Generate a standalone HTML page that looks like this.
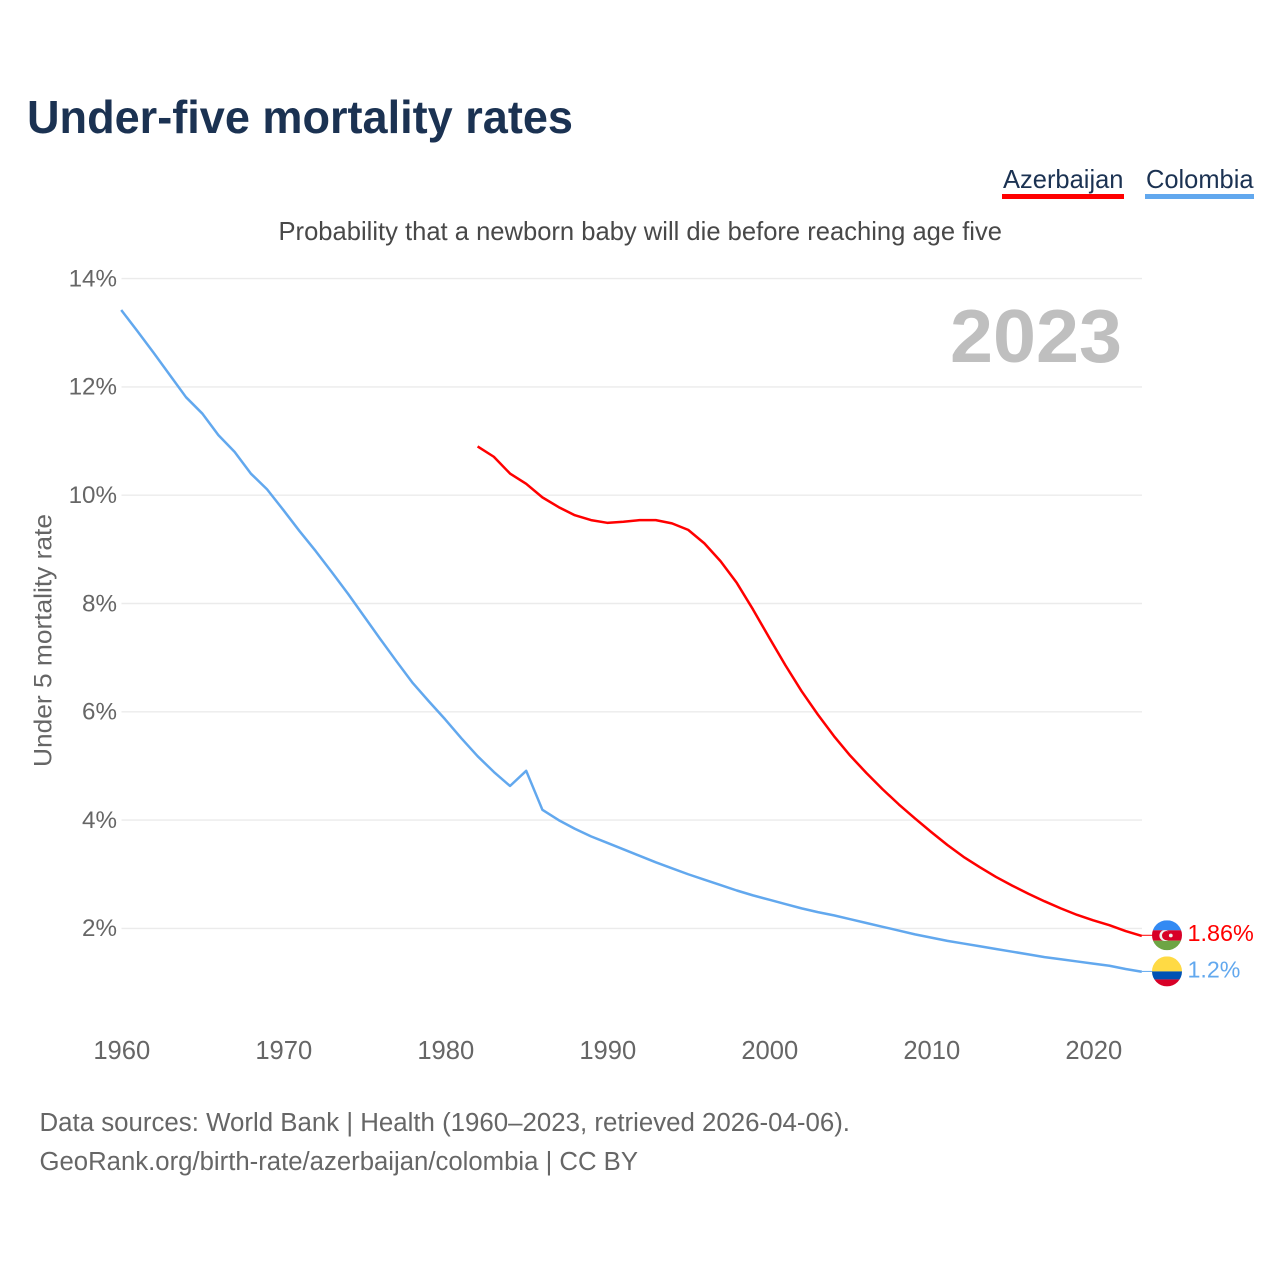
<!DOCTYPE html>
<html lang="en">
<head>
<meta charset="utf-8">
<title>Under-five mortality rates</title>
<style>
  html, body { margin: 0; padding: 0; background: #fff; }
  svg { display: block; font-family: "Liberation Sans", sans-serif; }
</style>
</head>
<body>
<svg id="chart" xmlns="http://www.w3.org/2000/svg" width="1280" height="1280" viewBox="0 0 1280 1280">
  <defs>
    <clipPath id="flag-clip"><circle cx="0" cy="0" r="15"></circle></clipPath>
  </defs>
  <rect x="0" y="0" width="1280" height="1280" fill="#ffffff"></rect>

  <text x="27" y="133" font-size="46" font-weight="700" fill="#1b3252" textLength="546" lengthAdjust="spacingAndGlyphs">Under-five mortality rates</text>

  <g>
    <g>
      <text x="1003" y="188" font-size="26" fill="#1b3252" textLength="120.5" lengthAdjust="spacingAndGlyphs">Azerbaijan</text>
      <rect x="1002" y="194" width="122" height="5" fill="#ff0000"></rect>
    </g>
    <g>
      <text x="1146" y="188" font-size="26" fill="#1b3252" textLength="107.5" lengthAdjust="spacingAndGlyphs">Colombia</text>
      <rect x="1145" y="194" width="109" height="5" fill="#62a8ee"></rect>
    </g>
  </g>

  <text x="278.5" y="240" font-size="26" fill="#484848" textLength="723.5" lengthAdjust="spacingAndGlyphs">Probability that a newborn baby will die before reaching age five</text>

  <g id="grid"></g>
  <g id="y-ticks"></g>
  <g id="x-ticks"></g>

  <text x="1122" y="362" text-anchor="end" font-size="75" font-weight="700" fill="#bfbfbf" textLength="172" lengthAdjust="spacingAndGlyphs">2023</text>

  <text transform="translate(51.5,767) rotate(-90)" x="0" y="0" font-size="25" fill="#666666" textLength="253" lengthAdjust="spacingAndGlyphs">Under 5 mortality rate</text>

  <g id="series"></g>
  <g id="end-markers"></g>

  <text x="39.5" y="1131" font-size="25.5" fill="#666666" textLength="810.5" lengthAdjust="spacingAndGlyphs">Data sources: World Bank | Health (1960–2023, retrieved 2026-04-06).</text>
  <text x="39.5" y="1170" font-size="25.5" fill="#666666" textLength="598.5" lengthAdjust="spacingAndGlyphs">GeoRank.org/birth-rate/azerbaijan/colombia | CC BY</text>
</svg>

<script>
const yTickValues = [2, 4, 6, 8, 10, 12, 14];
const xTickValues = [1960, 1970, 1980, 1990, 2000, 2010, 2020];

const colombiaStartYear = 1960;
const colombiaValues = [
  13.42, 13.03, 12.63, 12.22, 11.81, 11.51, 11.11, 10.80, 10.40, 10.11,
  9.73, 9.34, 8.97, 8.58, 8.18, 7.76, 7.34, 6.93, 6.53, 6.19,
  5.86, 5.51, 5.18, 4.89, 4.63, 4.91, 4.19, 4.00, 3.84, 3.70,
  3.58, 3.46, 3.34, 3.22, 3.11, 3.00, 2.90, 2.80, 2.70, 2.61,
  2.53, 2.45, 2.37, 2.30, 2.24, 2.17, 2.10, 2.03, 1.96, 1.89,
  1.83, 1.77, 1.72, 1.67, 1.62, 1.57, 1.52, 1.47, 1.43, 1.39,
  1.35, 1.31, 1.25, 1.20
];

const azerbaijanStartYear = 1982;
const azerbaijanValues = [
  10.90, 10.71, 10.40, 10.21, 9.96, 9.78, 9.63, 9.54,
  9.49, 9.51, 9.54, 9.54, 9.48, 9.36, 9.11, 8.78, 8.38, 7.89,
  7.37, 6.86, 6.38, 5.95, 5.55, 5.19, 4.87, 4.57, 4.29, 4.03,
  3.78, 3.54, 3.32, 3.13, 2.95, 2.79, 2.64, 2.50, 2.37, 2.25,
  2.15, 2.06, 1.95, 1.86
];

const azerbaijanLatestLabel = "1.86%";
const colombiaLatestLabel = "1.2%";

const NS = "http://www.w3.org/2000/svg";
const X_AT_1960 = 121.2;
const X_PER_YEAR = 16.2;
const Y_AT_2 = 928.4;
const Y_PER_UNIT = 54.15;
const PLOT_RIGHT = 1142;
const FLAG_X = 1167;
const FLAG_OFFSET_Y = -0.7;
const LABEL_X = 1187.5;
const COLORS = { azerbaijan: "#ff0000", colombia: "#62a8ee" };

function xScale(year) { return X_AT_1960 + (year - 1960) * X_PER_YEAR; }
function yScale(value) { return Y_AT_2 - (value - 2) * Y_PER_UNIT; }
function make(tag) { return document.createElementNS(NS, tag); }
function setAll(el, attrs) { Object.keys(attrs).forEach(function (k) { el.setAttribute(k, attrs[k]); }); return el; }

const gridGroup = document.getElementById("grid");
const yTickGroup = document.getElementById("y-ticks");
yTickValues.forEach(function (v) {
  const line = setAll(make("line"), { x1: 121.5, x2: PLOT_RIGHT, y1: yScale(v), y2: yScale(v), stroke: "#ebebeb", "stroke-width": 1.4 });
  
  
  gridGroup.appendChild(line);
  const label = setAll(make("text"), { x: 117, y: yScale(v) + 7.8, "text-anchor": "end", "font-size": 24.2, fill: "#666666" });
  
  
  label.textContent = v + "%";
  yTickGroup.appendChild(label);
});

const xTickGroup = document.getElementById("x-ticks");
xTickValues.forEach(function (year) {
  const label = setAll(make("text"), { x: xScale(year) + 0.6, y: 1059.2, "text-anchor": "middle", "font-size": 25.6, fill: "#666666" });
  
  
  label.textContent = year;
  xTickGroup.appendChild(label);
});

function linePath(startYear, values) {
  return values.map(function (v, i) {
    return (i ? "L" : "M") + xScale(startYear + i).toFixed(2) + " " + yScale(v).toFixed(2);
  }).join(" ");
}

const seriesGroup = document.getElementById("series");
const azerbaijanLine = setAll(make("path"), { d: linePath(azerbaijanStartYear, azerbaijanValues), fill: "none", stroke: COLORS.azerbaijan, "stroke-width": 2.5, "stroke-linejoin": "round" });


seriesGroup.appendChild(azerbaijanLine);

const colombiaLine = setAll(make("path"), { d: linePath(colombiaStartYear, colombiaValues), fill: "none", stroke: COLORS.colombia, "stroke-width": 2.5, "stroke-linejoin": "round" });


seriesGroup.appendChild(colombiaLine);

function addRect(parent, y, h, fill) {
  parent.appendChild(setAll(make("rect"), { x: -15, y: y, width: 30, height: h, fill: fill }));
}

const markers = document.getElementById("end-markers");

const azerbaijanEndY = yScale(azerbaijanValues[azerbaijanValues.length - 1]) + FLAG_OFFSET_Y;
const azerbaijanConnector = setAll(make("line"), { x1: xScale(2023), x2: FLAG_X - 15, y1: azerbaijanEndY, y2: azerbaijanEndY, stroke: COLORS.azerbaijan, "stroke-width": 1 });


markers.appendChild(azerbaijanConnector);

const colombiaEndY = yScale(colombiaValues[colombiaValues.length - 1]) - 0.3;
const colombiaConnector = setAll(make("line"), { x1: xScale(2023), x2: FLAG_X - 15, y1: colombiaEndY, y2: colombiaEndY, stroke: COLORS.colombia, "stroke-width": 1 });


markers.appendChild(colombiaConnector);

const azerbaijanFlag = setAll(make("g"), { transform: "translate(" + FLAG_X + "," + azerbaijanEndY + ")", "clip-path": "url(#flag-clip)" });


addRect(azerbaijanFlag, -15, 10, "#338af3");
addRect(azerbaijanFlag, -5, 10.4, "#d80027");
addRect(azerbaijanFlag, 5.4, 9.6, "#6da544");
azerbaijanFlag.appendChild(setAll(make("circle"), { cx: -2.2, cy: 0.3, r: 5.4, fill: "#f0f0f0" }));
azerbaijanFlag.appendChild(setAll(make("circle"), { cx: -0.4, cy: 0.3, r: 4.6, fill: "#d80027" }));
azerbaijanFlag.appendChild(setAll(make("circle"), { cx: 3.8, cy: 0.2, r: 1.9, fill: "#f0f0f0" }));
markers.appendChild(azerbaijanFlag);

const colombiaFlag = setAll(make("g"), { transform: "translate(" + FLAG_X + "," + colombiaEndY + ")", "clip-path": "url(#flag-clip)" });


addRect(colombiaFlag, -15, 15, "#ffda44");
addRect(colombiaFlag, 0, 8, "#0052b4");
addRect(colombiaFlag, 8, 7, "#d80027");
markers.appendChild(colombiaFlag);

const azerbaijanLabel = setAll(make("text"), { x: LABEL_X, y: azerbaijanEndY + 5.8, "font-size": 23.4, fill: COLORS.azerbaijan });


azerbaijanLabel.textContent = azerbaijanLatestLabel;
markers.appendChild(azerbaijanLabel);

const colombiaLabel = setAll(make("text"), { x: LABEL_X, y: colombiaEndY + 6.2, "font-size": 23.2, fill: COLORS.colombia });


colombiaLabel.textContent = colombiaLatestLabel;
markers.appendChild(colombiaLabel);
</script>
</body>
</html>
